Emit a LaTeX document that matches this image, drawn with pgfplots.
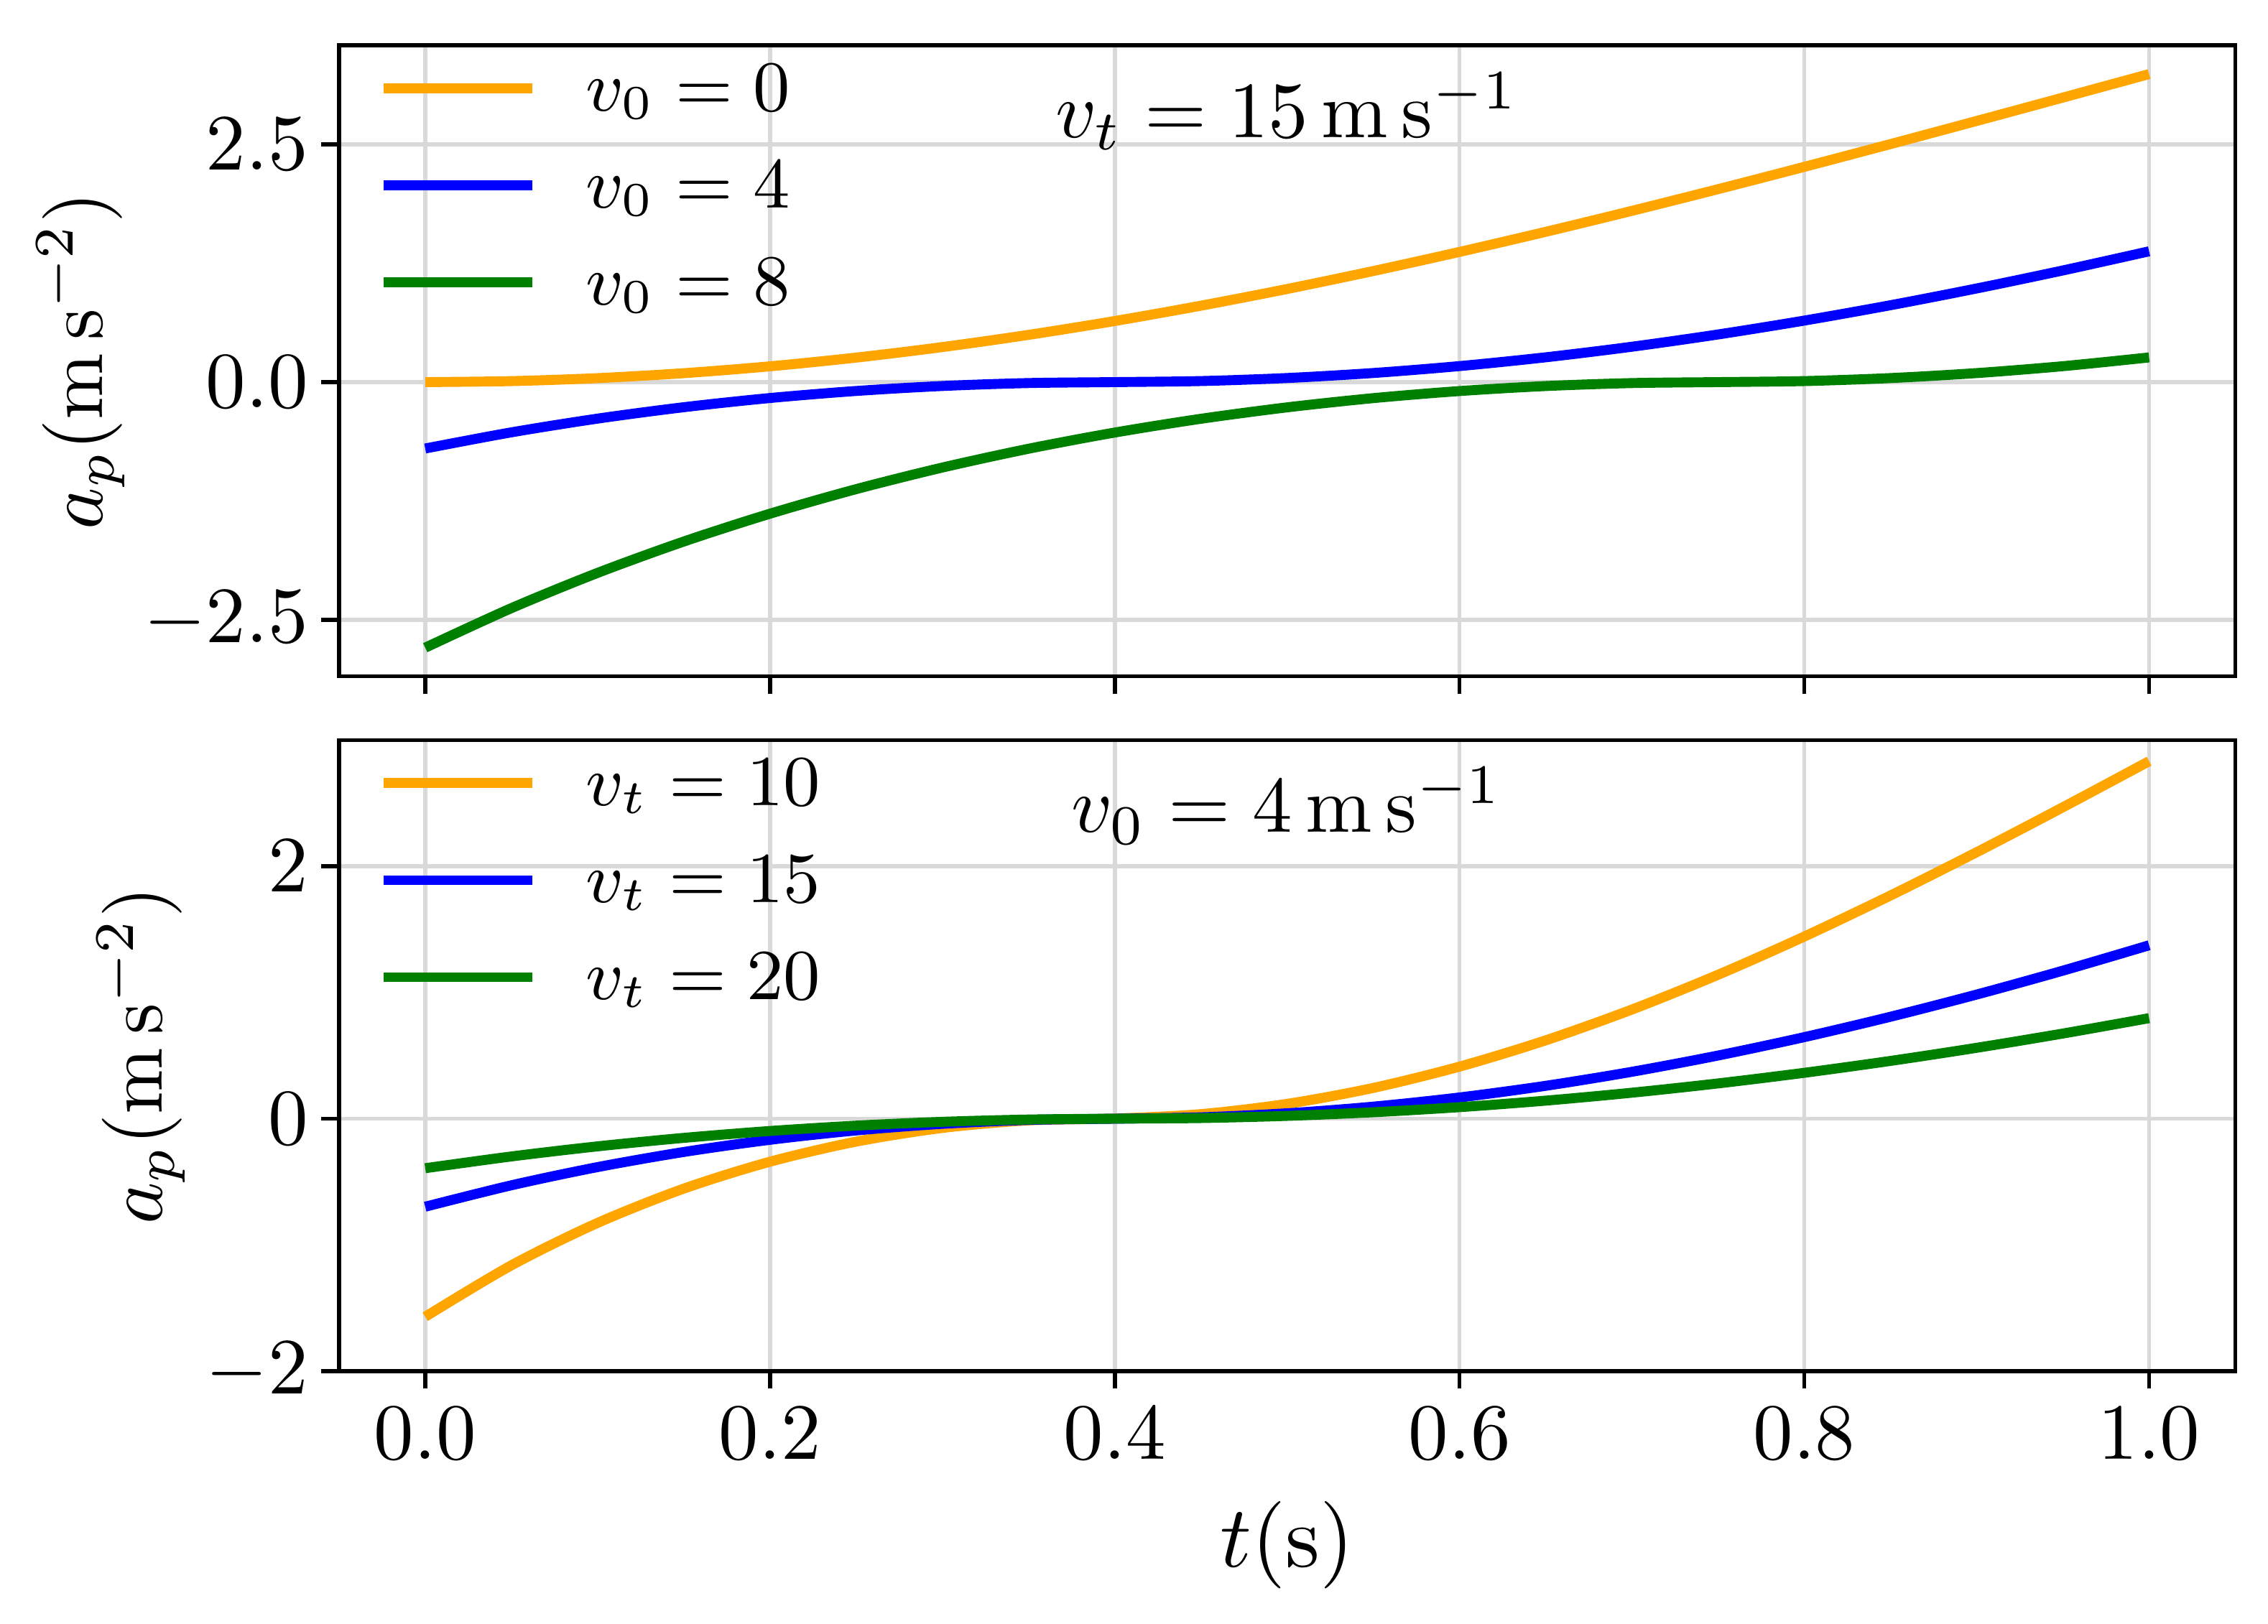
\documentclass[border=0pt]{standalone}
\usepackage{pgfplots}
\pgfplotsset{compat=1.18}
\definecolor{mplorange}{RGB}{255,165,0}
\definecolor{mplblue}{RGB}{0,0,255}
\definecolor{mplgreen}{RGB}{0,128,0}
\definecolor{gridgray}{RGB}{217,217,217}

\pgfplotsset{
  myaxis/.style={
    scale only axis, width=237.7pt, height=79.1pt,
    xmin=-0.05, xmax=1.05,
    xtick={0,0.2,0.4,0.6,0.8,1},
    tick pos=left, tick align=outside,
    major tick length=2.2pt,
    tick style={black, line width=0.5pt},
    axis line style={line width=0.5pt},
    grid=major, major grid style={gridgray, line width=0.5pt},
    xticklabel style={anchor=base, yshift=-8.8pt, /pgf/number format/.cd, fixed, fixed zerofill, precision=1},
    yticklabel style={anchor=east, xshift=1.85pt},
    legend style={draw=none, fill=none, at={(axis description cs:0,1)}, anchor=north west,
      xshift=5pt, yshift=-2.58pt, inner sep=0pt, outer sep=0pt, row sep=6.52pt, column sep=6.1pt,
      font=\fontsize{8.75}{10}\selectfont,
      nodes={inner sep=0pt, text height=5.64pt, text depth=0pt}},
    legend cell align=left,
    legend image code/.code={\draw[#1, line width=1.25pt] (0pt,0pt) -- (18.6pt,0pt);},
    every axis plot/.append style={line width=1.25pt, smooth},
  }
}

\begin{document}
\begin{tikzpicture}
\path[use as bounding box] (-42.5pt,-31.7pt) rectangle (241.8pt,171.9pt);

% top panel
\begin{axis}[myaxis, at={(0pt,87.1pt)}, anchor=south west,
  ymin=-3.0917, ymax=3.5376,
  ytick={-2.5,0,2.5},
  yticklabel style={/pgf/number format/.cd, fixed, fixed zerofill, precision=1},
  xticklabels={},
  every axis y label/.style={at={(axis description cs:-0.1249,0.5)}, rotate=90, anchor=base},
  ylabel={$a_p(\mathrm{m}\,\mathrm{s}^{-2})$},
]
\addplot[mplorange] coordinates {(0,0) (0.05,0.0105) (0.1,0.0418) (0.15,0.0938) (0.2,0.1659) (0.25,0.2576) (0.3,0.3681) (0.35,0.4965) (0.4,0.6420) (0.45,0.8031) (0.5,0.9785) (0.55,1.1673) (0.6,1.3680) (0.65,1.5792) (0.7,1.7994) (0.75,2.0274) (0.8,2.2618) (0.85,2.5011) (0.9,2.7441) (0.95,2.9895) (1,3.2363)};
\addlegendentry{$v_0 = 0$}
\addplot[mplblue] coordinates {(0,-0.6976) (0.05,-0.5277) (0.1,-0.3835) (0.15,-0.2637) (0.2,-0.1672) (0.25,-0.0931) (0.3,-0.0408) (0.35,-0.0099) (0.4,0.0000) (0.45,0.0111) (0.5,0.0431) (0.55,0.0957) (0.6,0.1684) (0.65,0.2607) (0.7,0.3718) (0.75,0.5008) (0.8,0.6465) (0.85,0.8080) (0.9,0.9840) (0.95,1.1733) (1,1.3743)};
\addlegendentry{$v_0 = 4$}
\addplot[mplgreen] coordinates {(0,-2.7904) (0.05,-2.3750) (0.1,-2.0046) (0.15,-1.6751) (0.2,-1.3827) (0.25,-1.1245) (0.3,-0.8977) (0.35,-0.7001) (0.4,-0.5299) (0.45,-0.3853) (0.5,-0.2652) (0.55,-0.1683) (0.6,-0.0940) (0.65,-0.0414) (0.7,-0.0102) (0.75,0.0000) (0.8,0.0108) (0.85,0.0425) (0.9,0.0949) (0.95,0.1673) (1,0.2593)};
\addlegendentry{$v_0 = 8$}
\node[anchor=base, inner sep=0pt] at (axis description cs:0.5,0.854) {$v_t = 15\,\mathrm{m}\,\mathrm{s}^{-1}$};
\end{axis}

% bottom panel
\begin{axis}[myaxis, at={(0pt,0pt)}, anchor=south west,
  ymin=-2, ymax=3,
  ytick={-2,0,2},
  every axis y label/.style={at={(axis description cs:-0.0934,0.5)}, rotate=90, anchor=base},
  ylabel={$a_p(\mathrm{m}\,\mathrm{s}^{-2})$},
  every axis x label/.style={at={(axis description cs:0.5,-0.31)}, anchor=base, font=\fontsize{10.5}{12}\selectfont},
  xlabel={$t(\mathrm{s})$},
]
\addplot[mplorange] coordinates {(0,-1.5696) (0.05,-1.1619) (0.1,-0.8259) (0.15,-0.5542) (0.2,-0.3409) (0.25,-0.1817) (0.3,-0.0733) (0.35,-0.0136) (0.4,0.0014) (0.45,0.0364) (0.5,0.1177) (0.55,0.2440) (0.6,0.4128) (0.65,0.6211) (0.7,0.8652) (0.75,1.1408) (0.8,1.4437) (0.85,1.7690) (0.9,2.1120) (0.95,2.4682) (1,2.8331)};
\addlegendentry{$v_t = 10$}
\addplot[mplblue] coordinates {(0,-0.6976) (0.05,-0.5277) (0.1,-0.3835) (0.15,-0.2637) (0.2,-0.1672) (0.25,-0.0931) (0.3,-0.0408) (0.35,-0.0099) (0.4,0.0000) (0.45,0.0111) (0.5,0.0431) (0.55,0.0957) (0.6,0.1684) (0.65,0.2607) (0.7,0.3718) (0.75,0.5008) (0.8,0.6465) (0.85,0.8080) (0.9,0.9840) (0.95,1.1733) (1,1.3743)};
\addlegendentry{$v_t = 15$}
\addplot[mplgreen] coordinates {(0,-0.3924) (0.05,-0.2991) (0.1,-0.2191) (0.15,-0.1520) (0.2,-0.0974) (0.25,-0.0550) (0.3,-0.0248) (0.35,-0.0065) (0.4,0.0000) (0.45,0.0053) (0.5,0.0224) (0.55,0.0512) (0.6,0.0915) (0.65,0.1432) (0.7,0.2060) (0.75,0.2797) (0.8,0.3638) (0.85,0.4580) (0.9,0.5619) (0.95,0.6750) (1,0.7968)};
\addlegendentry{$v_t = 20$}
\node[anchor=base, inner sep=0pt] at (axis description cs:0.5,0.854) {$v_0 = 4\,\mathrm{m}\,\mathrm{s}^{-1}$};
\end{axis}
\end{tikzpicture}
\end{document}
